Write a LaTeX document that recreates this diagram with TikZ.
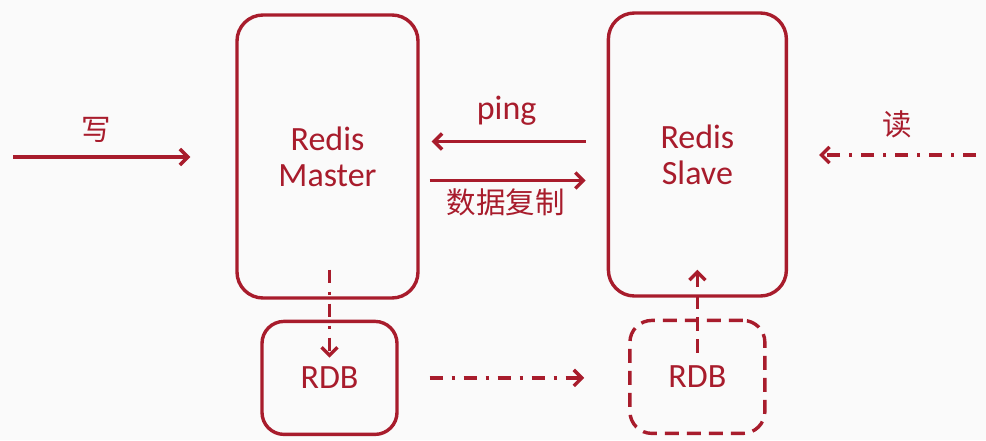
\documentclass[tikz,border=0pt]{standalone}
\usepackage{fontspec}
\setmainfont{Carlito}
\newfontfamily\cjk{Noto Sans CJK SC}
\usetikzlibrary{positioning,arrows.meta}
\definecolor{redisred}{HTML}{A81C2C}
\definecolor{bgpaper}{HTML}{FAFAFA}
\begin{document}
\begin{tikzpicture}[x=1pt,y=-1pt,
  font=\fontsize{34}{36}\selectfont, text=redisred,
  srv/.style={draw=redisred,line width=3.4pt,rounded corners=26pt,
    minimum width=181pt,minimum height=283pt,align=center},
  rdb/.style={draw=redisred,line width=3.4pt,rounded corners=22pt,
    minimum width=135pt,minimum height=113pt},
  ar/.style={draw=redisred,line width=3.4pt,
    -{Straight Barb[length=8pt,width=16pt,line width=3.4pt]}},
  dashdot/.style={dash pattern=on 13pt off 9pt on 3pt off 9pt},
  lbl/.style={font=\cjk\fontsize{29.5}{31}\selectfont},
  node distance=22pt]
\fill[bgpaper] (0,0) rectangle (986,440);
\useasboundingbox (0,0) rectangle (986,440);
\node[srv] (master) at (327.5,156.5) {Redis\\Master};
\node[srv,right=187pt of master,yshift=2pt,minimum width=178pt] (slave) {Redis\\Slave};
\node[rdb,below=20pt of master,xshift=2pt] (rdb1) {RDB};
\node[rdb,below=21pt of slave,dash pattern=on 14pt off 8pt] (rdb2) {RDB};
\coordinate (wr) at (13,157);
\coordinate (rd) at (976,155);
% client side
\draw[ar,shorten >=45pt] (wr) -- (wr -| master.west)
  node[pos=0.375,above=9pt,lbl]{写};
\draw[ar,dashdot,shorten >=31pt] (rd) -- (rd -| slave.east)
  node[pos=0.42,above=12pt,lbl]{读};
% master <-> slave
\draw[ar,shorten <=21pt,shorten >=12pt] ([yshift=15pt]master.east -| slave.west)
  -- ([yshift=15pt]master.east) node[pos=0.535,above=11pt]{ping};
\draw[ar,shorten <=10pt,shorten >=21pt] ([yshift=-24pt]master.east)
  -- ([yshift=-24pt]master.east -| slave.west) node[pos=0.46,below=3pt,lbl]{数据复制};
% rdb files
\draw[ar,dashdot] ([yshift=30pt]master.south -| rdb1) -- ([yshift=-38pt]rdb1.north);
\draw[ar,dashdot,shorten <=31pt,shorten >=44pt] (rdb1) -- (rdb1 -| rdb2.west);
\draw[ar,dash pattern=on 14pt off 8pt] ([yshift=24pt]rdb2.center) -- ([yshift=28pt]slave.south);
\end{tikzpicture}
\end{document}
